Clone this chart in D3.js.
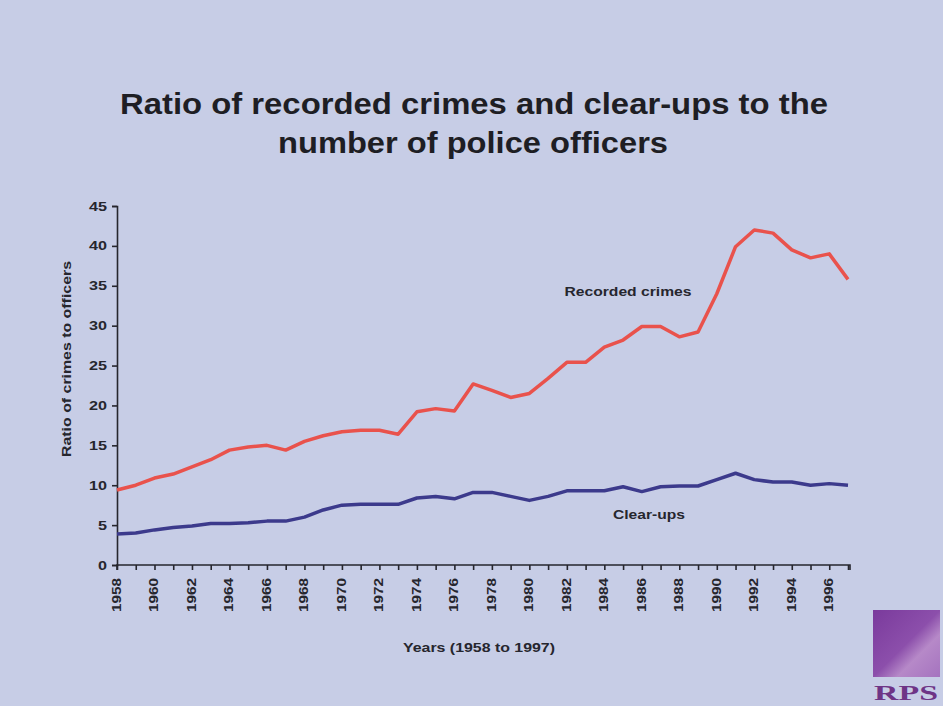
<!DOCTYPE html>
<html>
<head>
<meta charset="utf-8">
<script src="https://cdn.jsdelivr.net/npm/d3@7"></script>
<style>
  html, body { margin: 0; padding: 0; background: #c7cde6; }
  svg { display: block; }
</style>
</head>
<body>
<script>
const years = d3.range(1958, 1998);
const recordedCrimes = [9.4, 10.0, 10.9, 11.4, 12.3, 13.2, 14.4, 14.8, 15.0, 14.4,
  15.5, 16.2, 16.7, 16.9, 16.9, 16.4, 19.2, 19.6, 19.3, 22.7,
  21.9, 21.0, 21.5, 23.4, 25.4, 25.4, 27.3, 28.2, 29.9, 29.9,
  28.6, 29.2, 34.0, 39.9, 42.0, 41.6, 39.5, 38.5, 39.0, 35.8];
const clearUps = [3.9, 4.0, 4.4, 4.7, 4.9, 5.2, 5.2, 5.3, 5.5, 5.5,
  6.0, 6.9, 7.5, 7.6, 7.6, 7.6, 8.4, 8.6, 8.3, 9.1,
  9.1, 8.6, 8.1, 8.6, 9.3, 9.3, 9.3, 9.8, 9.2, 9.8,
  9.9, 9.9, 10.7, 11.5, 10.7, 10.4, 10.4, 10.0, 10.2, 10.0];
const yTicks = [0, 5, 10, 15, 20, 25, 30, 35, 40, 45];
const xLabelYears = d3.range(1958, 1997, 2);
const titleLines = ["Ratio of recorded crimes and clear-ups to the", "number of police officers"];

const W = 943, H = 706;
const svg = d3.select("body").append("svg").attr("width", W).attr("height", H);

svg.append("rect").attr("width", W).attr("height", H).attr("fill", "#c7cde6");

const font = "'Liberation Sans', Arial, sans-serif";
const ink = "#26262e";

// Title
const title = svg.append("text")
  .attr("text-anchor", "middle")
  .style("font-family", font)
  .style("font-weight", "bold").style("font-size", "30px").attr("fill", "#1e1e24");
title.append("tspan").attr("x", 474).attr("y", 114).attr("textLength", 708).attr("lengthAdjust", "spacingAndGlyphs").text(titleLines[0]);
title.append("tspan").attr("x", 473).attr("y", 153).attr("textLength", 390).attr("lengthAdjust", "spacingAndGlyphs").text(titleLines[1]);

const x = d3.scaleLinear().domain([1958, 1997]).range([117, 848]);
const y = d3.scaleLinear().domain([0, 45]).range([565, 206]);

// Y axis
const yAxis = svg.append("g").attr("transform", "translate(117,0)")
  .call(d3.axisLeft(y).tickValues(yTicks).tickSize(5).tickPadding(5));
yAxis.select(".domain").attr("stroke", ink).attr("stroke-width", 1.6);
yAxis.selectAll(".tick line").attr("stroke", ink).attr("stroke-width", 1.6);
yAxis.selectAll(".tick text").attr("fill", ink)
  .style("font-family", font).style("font-weight", "bold").style("font-size", "12.5px")
  .attr("textLength", d => d >= 10 ? 18 : 9).attr("lengthAdjust", "spacingAndGlyphs");

// X axis
const xAxis = svg.append("g").attr("transform", "translate(0,565)")
  .call(d3.axisBottom(x).tickValues(years).tickSize(5).tickFormat(""));
xAxis.select(".domain").attr("stroke", ink).attr("stroke-width", 1.6)
  .attr("d", "M117,5V0H850V5");
xAxis.selectAll(".tick line").attr("stroke", ink).attr("stroke-width", 1.6);

svg.append("g").selectAll("text").data(xLabelYears).join("text")
  .attr("transform", d => `translate(${x(d) + 4},578) rotate(-90)`)
  .attr("text-anchor", "end")
  .attr("fill", ink)
  .attr("textLength", 34).attr("lengthAdjust", "spacingAndGlyphs")
  .style("font-family", font).style("font-weight", "bold").style("font-size", "12px")
  .text(d => d);

// Axis titles
svg.append("text")
  .attr("transform", "translate(71,359) rotate(-90)")
  .attr("text-anchor", "middle").attr("fill", ink)
  .attr("textLength", 196).attr("lengthAdjust", "spacingAndGlyphs")
  .style("font-family", font).style("font-weight", "bold").style("font-size", "12px")
  .text("Ratio of crimes to officers");

svg.append("text")
  .attr("x", 479).attr("y", 652).attr("text-anchor", "middle").attr("fill", ink)
  .attr("textLength", 152).attr("lengthAdjust", "spacingAndGlyphs")
  .style("font-family", font).style("font-weight", "bold").style("font-size", "12px")
  .text("Years (1958 to 1997)");

// Lines
const line = d3.line().x((d, i) => x(years[i])).y(d => y(d));
svg.append("path").datum(clearUps).attr("d", line)
  .attr("fill", "none").attr("stroke", "#3c3a8c").attr("stroke-width", 3.5).attr("stroke-linejoin", "round");
svg.append("path").datum(recordedCrimes).attr("d", line)
  .attr("fill", "none").attr("stroke", "#e9524c").attr("stroke-width", 3.5).attr("stroke-linejoin", "round");

// Series labels
svg.append("text").attr("x", 628).attr("y", 296).attr("text-anchor", "middle").attr("fill", ink)
  .attr("textLength", 127).attr("lengthAdjust", "spacingAndGlyphs")
  .style("font-family", font).style("font-weight", "bold").style("font-size", "12px")
  .text("Recorded crimes");
svg.append("text").attr("x", 649).attr("y", 519).attr("text-anchor", "middle").attr("fill", ink)
  .attr("textLength", 72).attr("lengthAdjust", "spacingAndGlyphs")
  .style("font-family", font).style("font-weight", "bold").style("font-size", "12px")
  .text("Clear-ups");

// Logo
const defs = svg.append("defs");
const grad = defs.append("linearGradient").attr("id", "lg").attr("x1", "0").attr("y1", "0").attr("x2", "1").attr("y2", "1");
grad.append("stop").attr("offset", "0%").attr("stop-color", "#7a3a9c");
grad.append("stop").attr("offset", "50%").attr("stop-color", "#8c4fab");
grad.append("stop").attr("offset", "68%").attr("stop-color", "#b689c8");
grad.append("stop").attr("offset", "100%").attr("stop-color", "#a573bf");
svg.append("rect").attr("x", 873).attr("y", 610).attr("width", 67).attr("height", 67).attr("fill", "url(#lg)");
svg.append("text").attr("x", 906).attr("y", 700).attr("text-anchor", "middle").attr("fill", "#6e3486")
  .attr("textLength", 64).attr("lengthAdjust", "spacingAndGlyphs")
  .style("font-family", "'Liberation Serif', serif").style("font-weight", "bold").style("font-size", "21px")
  .text("RPS");
</script>
</body>
</html>
